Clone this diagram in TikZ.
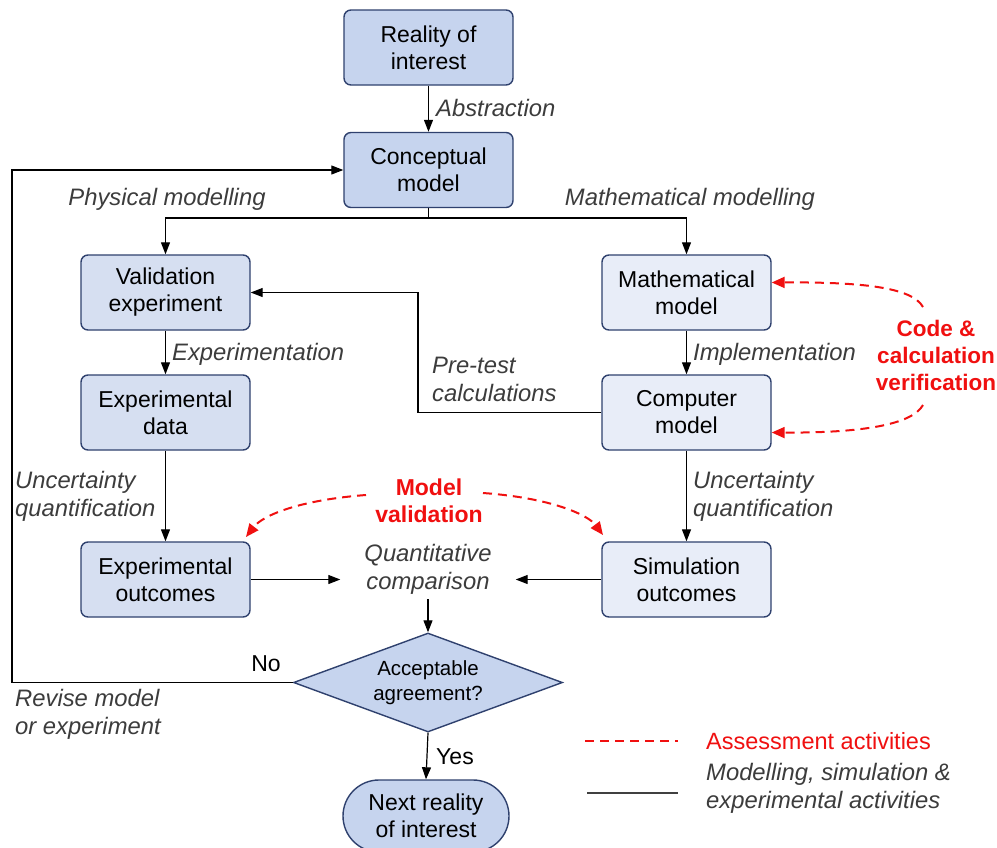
\documentclass[tikz,border=0pt]{standalone}
\usepackage{fontspec}
\setmainfont{Liberation Sans}
\usetikzlibrary{shapes.geometric,shapes.misc,arrows.meta}

\definecolor{edgeblue}{RGB}{47,65,110}
\definecolor{fillmain}{RGB}{198,212,238}
\definecolor{fillexp}{RGB}{214,223,241}
\definecolor{fillsim}{RGB}{232,237,248}
\definecolor{labelgray}{RGB}{60,60,60}
\definecolor{assessred}{RGB}{240,16,16}

\newcommand\bxfont{\fontsize{23}{27}\selectfont}
\newcommand\lbfont{\fontsize{23.8}{28}\selectfont\itshape}
\newcommand\dmfont{\fontsize{20.5}{25}\selectfont}

\tikzset{
  box/.style={draw=edgeblue, line width=1.4pt, rounded corners=7pt,
    minimum width=169pt, minimum height=75pt, align=center, font=\bxfont, inner sep=2pt},
  mainbox/.style={box, fill=fillmain},
  expbox/.style={box, fill=fillexp},
  simbox/.style={box, fill=fillsim},
  lbl/.style={font=\lbfont, text=labelgray, align=left, inner sep=0pt},
  arr/.style={draw=black, line width=1.2pt, -{Triangle[length=12pt,width=9pt]}},
  plain/.style={draw=black, line width=1.2pt},
  redarr/.style={draw=assessred, line width=2pt, dash pattern=on 9pt off 6pt,
    -{Triangle[length=13pt,width=11pt]}},
  redtxt/.style={font=\bxfont\bfseries, text=assessred, align=center, inner sep=0pt}
}

\begin{document}
\begin{tikzpicture}[x=1pt,y=-1pt]
\clip (0,0) rectangle (997,847);
\fill[white] (0,0) rectangle (997,847);

% process boxes
\node[mainbox] (reality) at (428.5,47.5) {Reality of\\interest};
\node[mainbox] (concept) at (428.5,170) {Conceptual\\model};
\node[expbox] (valexp) at (165.5,292.5) {Validation\\experiment};
\node[expbox] (expdata) at (165.5,412.5) {Experimental\\data};
\node[expbox] (expout) at (165.5,579.5) {Experimental\\outcomes};
\node[simbox] (mathm) at (686.5,292.5) {Mathematical\\model};
\node[simbox] (compm) at (686.5,412.5) {Computer\\model};
\node[simbox] (simout) at (686.5,579.5) {Simulation\\outcomes};

% comparison, decision and end
\node[font=\lbfont, text=labelgray, align=center, inner xsep=24pt, inner ysep=5pt] (quant) at (428,569) {Quantitative\\comparison};
\node[diamond, aspect=2.72, minimum width=269pt, minimum height=99pt, inner sep=0pt,
      draw=edgeblue, line width=1.4pt, fill=fillmain, align=center, font=\dmfont] (accept) at (428,682.5) {Acceptable\\agreement?};
\node[rounded rectangle, minimum width=170pt, minimum height=72pt, draw=edgeblue,
      line width=1.4pt, fill=fillmain, align=center, font=\bxfont, inner sep=2pt] (next) at (426,816) {Next reality\\of interest};

% junction points
\coordinate (branch) at (428.5,218);
\coordinate (pretest) at (418,292.5);
\coordinate (loop) at (12,170);

% flow connectors
\draw[arr] (reality) -- (concept);
\draw[plain] (concept.south) -- (branch);
\draw[arr] (branch) -| (valexp.north);
\draw[arr] (branch) -| (mathm.north);
\draw[arr] (valexp) -- (expdata);
\draw[arr] (expdata) -- (expout);
\draw[arr] (mathm) -- (compm);
\draw[arr] (compm) -- (simout);
\draw[arr] (compm.west) -| (pretest) -- (valexp.east);
\draw[arr] (expout.east) -- (expout.east -| quant.west);
\draw[arr] (simout.west) -- (simout.west -| quant.east);
\draw[arr] (quant.south) -- (accept.north);
\draw[arr] (accept.west) -| (loop) -- (concept.west);
\draw[arr] (accept.south) -- (next.north);

% activity labels
\node[lbl, anchor=west] (labs) at (436,108) {Abstraction};
\node[lbl] (lphys) at (167,199) {Physical modelling};
\node[lbl] (lmath) at (690,199) {Mathematical modelling};
\node[lbl, anchor=west] (lexpt) at (172,354) {Experimentation};
\node[lbl, anchor=west] (limpl) at (693,354) {Implementation};
\node[lbl, anchor=west] (lpre) at (432,379) {Pre-test\\calculations};
\node[lbl, anchor=west] (luql) at (15,496) {Uncertainty\\quantification};
\node[lbl, anchor=west] (luqr) at (693,496) {Uncertainty\\quantification};
\node[lbl, anchor=west] (lrev) at (15,714) {Revise model\\or experiment};
\node[font=\bxfont, inner sep=0pt] (lno) at (266,664) {No};
\node[font=\bxfont, inner sep=0pt] (lyes) at (455,757) {Yes};

% assessment activities
\node[redtxt] (mval) at (429,501) {Model\\validation};
\node[redtxt, font=\fontsize{22.5}{27}\selectfont\bfseries] (cver) at (936,355) {Code \&\\calculation\\verification};
\coordinate (mvl) at (366,495);
\coordinate (mvr) at (483,493);
\coordinate (cvt) at (923,307);
\coordinate (cvb) at (923,405);
\coordinate (expcorner) at (246,537);
\coordinate (simcorner) at (603,535);
\draw[redarr] (mvl) .. controls (300,500) and (263,515) .. (expcorner);
\draw[redarr] (mvr) .. controls (552,498) and (588,515) .. (simcorner);
\draw[redarr] (cvt) .. controls (912,287) and (860,282) .. ([yshift=10pt]mathm.east);
\draw[redarr] (cvb) .. controls (912,425) and (860,433) .. ([yshift=-20pt]compm.east);

% legend
\coordinate (lega) at (585,741);
\coordinate (legb) at (678,741);
\coordinate (legc) at (587,793);
\coordinate (legd) at (678,793);
\draw[draw=assessred, line width=1.5pt, dash pattern=on 9pt off 6pt] (lega) -- (legb);
\draw[draw=black!75, line width=1.5pt] (legc) -- (legd);
\node[font=\fontsize{23.5}{28}\selectfont, text=assessred, anchor=west, inner sep=0pt] (lega txt) at (706,741) {Assessment activities};
\node[lbl, anchor=west] (legm txt) at (706,788) {Modelling, simulation \&\\experimental activities};
\end{tikzpicture}
\end{document}
